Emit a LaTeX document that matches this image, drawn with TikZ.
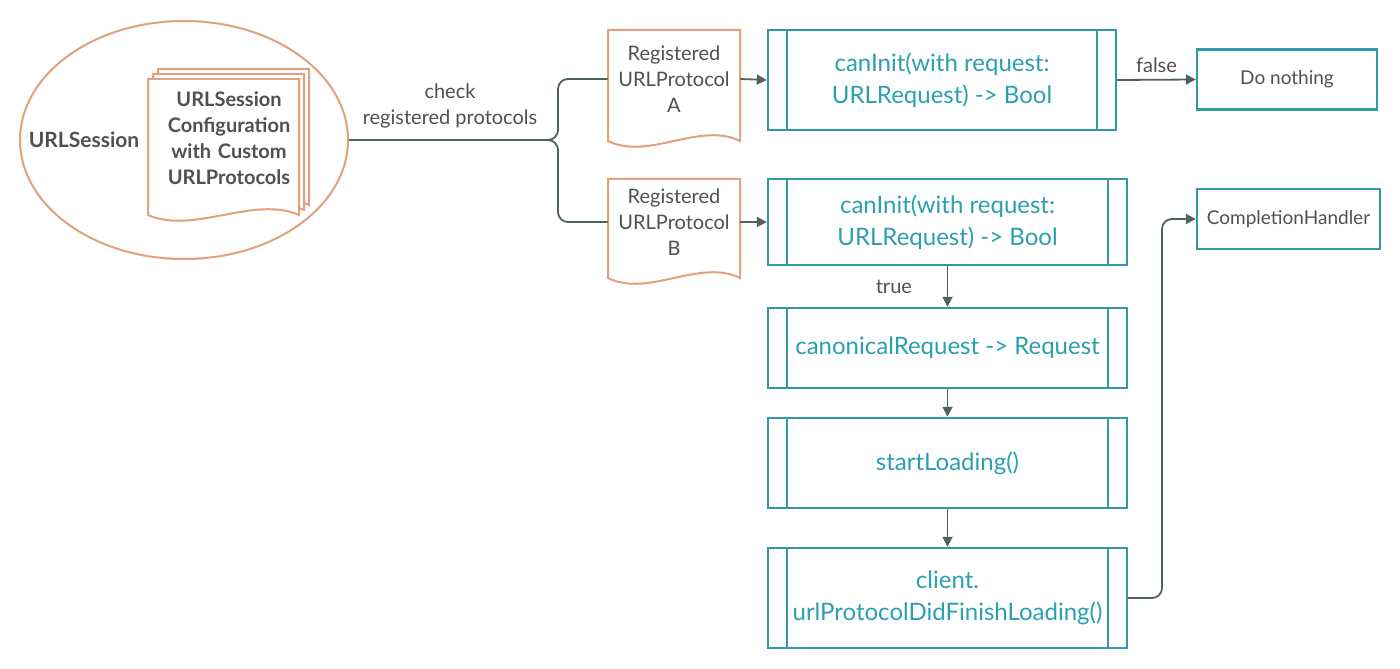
\documentclass[tikz,border=0pt]{standalone}
\usepackage{fontspec}
\setmainfont{Lato}
\usetikzlibrary{shapes.geometric,arrows.meta}
\definecolor{procteal}{HTML}{3399A6}
\definecolor{textteal}{HTML}{2A9FB0}
\definecolor{docorange}{HTML}{E3A07E}
\definecolor{labelgray}{HTML}{505050}
\definecolor{linegray}{HTML}{4F6263}
\begin{document}
\begin{tikzpicture}[x=0.5pt,y=-0.5pt,
  proc/.style={draw=procteal,line width=1.2pt,text=textteal,align=center,font=\fontsize{12}{16}\selectfont,inner sep=0pt,minimum width=179.5pt},
  plain/.style={draw=procteal,line width=1.2pt,text=labelgray,font=\fontsize{9.5}{12}\selectfont,inner sep=0pt,minimum width=90pt,minimum height=30pt},
  doc/.style={text=labelgray,align=center,font=\fontsize{10}{13}\selectfont,inner sep=0pt,text width=66pt},
  docline/.style={draw=docorange,line width=1pt},
  lbl/.style={text=labelgray,align=center,font=\fontsize{10}{13}\selectfont},
  conn/.style={draw=linegray,line width=0.9pt},
  arr/.style={conn,-{Triangle[width=5pt,length=5pt]}}]
\useasboundingbox (0,0) rectangle (1400,668);
% session with its configuration
\node[draw=docorange,line width=1pt,ellipse,minimum width=164pt,minimum height=119pt,inner sep=0pt] (sess) at (184,140) {};
\node[lbl,font=\bfseries\fontsize{10.5}{13}\selectfont] (sessname) at (84,140) {URLSession};
\coordinate (confc) at (229,138);
\foreach \s in {10,5,0}\draw[docline,fill=white] ([shift={(-81+\s,-59-\s)}]confc) -- ([shift={(70+\s,-59-\s)}]confc) -- ([shift={(70+\s,77-\s)}]confc) .. controls ([shift={(25+\s,57-\s)}]confc) and ([shift={(-36+\s,97-\s)}]confc) .. ([shift={(-81+\s,77-\s)}]confc) -- cycle;
\node[doc,text width=75pt,font=\bfseries\fontsize{10}{13}\selectfont] (conf) at (confc) {URLSession\\Configuration\\with Custom\\URLProtocols};

% registered protocols
\node[doc] (docA) at (674,79) {Registered\\URLProtocol\\A};
\node[doc] (docB) at (674,222) {Registered\\URLProtocol\\B};
\foreach \n/\t/\b in {docA/49/62,docB/43/56}\draw[docline] ([shift={(-66,-\t)}]\n.center) -- ([shift={(66,-\t)}]\n.center) -- ([shift={(66,\b)}]\n.center) .. controls ([shift={(26,\b-20)}]\n.center) and ([shift={(-26,\b+20)}]\n.center) .. ([shift={(-66,\b)}]\n.center) -- cycle;
\node[lbl] (check) at (450,106) {check\\registered protocols};

% protocol calls
\node[proc,minimum width=174pt,minimum height=50pt] (initA) at (942,80) {canInit(with request:\\URLRequest) -> Bool};
\node[proc,minimum height=43pt] (initB) at (947.5,222) {canInit(with request:\\URLRequest) -> Bool};
\node[proc,minimum height=40pt] (canon) at (947.5,348) {canonicalRequest -> Request};
\node[proc,minimum height=45pt] (start) at (947.5,463) {startLoading()};
\node[proc,minimum height=50pt] (finish) at (947.5,598) {client.\\urlProtocolDidFinishLoading()};
\foreach \n in {initA,initB,canon,start,finish}\draw[procteal,line width=0.8pt] ([xshift=10pt]\n.north west) -- ([xshift=10pt]\n.south west) ([xshift=-10pt]\n.north east) -- ([xshift=-10pt]\n.south east);
\node[plain] (nothing) at (1287,79.5) {Do nothing};
\node[plain,minimum width=91.5pt] (done) at (1288.5,219) {CompletionHandler};

% connectors
\draw[conn,rounded corners=5pt] (sess.east) -- (558,140) |- (docA.west);
\draw[conn,rounded corners=5pt] (sess.east) -- (558,140) |- (docB.west);
\draw[arr] (docA.east) -- (initA.west);
\draw[arr] (docB.east) -- (initB.west);
\draw[arr] (initA.east) -- node[lbl,above] {false} (nothing.west);
\draw[arr] (initB.south) -- node[lbl,left=14pt] {true} (canon.north);
\draw[arr] (canon.south) -- (start.north);
\draw[arr] (start.south) -- (finish.north);
\draw[arr,rounded corners=5pt] (finish.east) -- (1162,598) |- (done.west);
\end{tikzpicture}
\end{document}
